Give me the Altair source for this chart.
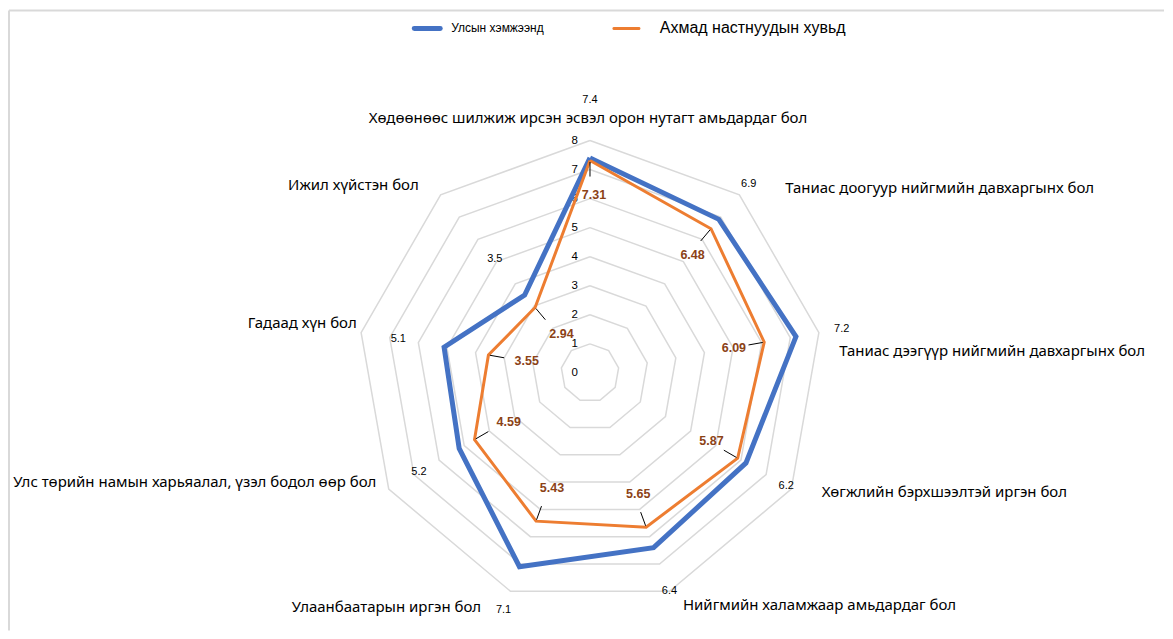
import altair as alt
import pandas as pd

categories = [
    "Хөдөөнөөс шилжиж ирсэн эсвэл орон нутагт амьдардаг бол",
    "Таниас доогуур нийгмийн давхаргынх бол",
    "Таниас дээгүүр нийгмийн давхаргынх бол",
    "Хөгжлийн бэрхшээлтэй иргэн бол",
    "Нийгмийн халамжаар амьдардаг бол",
    "Улаанбаатарын иргэн бол",
    "Улс төрийн намын харьяалал, үзэл бодол өөр бол",
    "Гадаад хүн бол",
    "Ижил хүйстэн бол",
]
national = [7.4, 6.9, 7.2, 6.2, 6.4, 7.1, 5.2, 5.1, 3.5]
elderly = [7.31, 6.48, 6.09, 5.87, 5.65, 5.43, 4.59, 3.55, 2.94]
series_names = ["Улсын хэмжээнд", "Ахмад настнуудын хувьд"]
ticks = [0, 1, 2, 3, 4, 5, 6, 7, 8]

N = len(categories)

# ---- layout (pixels) ----
W, H = 1157, 623
CX, CY = 582, 365
U = 29.1
xdom = [-CX / U, (W - CX) / U]
ydom = [-(H - CY) / U, CY / U]

# category label placement: radius plus small pixel nudges (as Excel placed them)
CAT_R = 8.85
NUDGE_X = [-2, 30, -4, 9, 5, -21, 9, 20, -6]
NUDGE_Y = [2, 12, 23, -9, -10, -7, -19, -5, 9]

BLUE = "#4472C4"
ORANGE = "#ED7D31"
BROWN = "#8B4216"
GRID = "#D9D9D9"


def series_df(vals):
    rows = [{"idx": i, "value": v, "category": categories[i]} for i, v in enumerate(vals)]
    rows.append({"idx": N, "value": vals[0], "category": categories[0]})
    return pd.DataFrame(rows)


df_nat = series_df(national)
df_eld = series_df(elderly)
df_cat = pd.DataFrame({"idx": list(range(N)), "category": categories})
df_rings = pd.DataFrame([{"ring": r, "idx": k} for r in ticks[1:] for k in range(N + 1)])
df_ticks = pd.DataFrame({"tick": ticks})

xs = alt.Scale(domain=xdom, nice=False, zero=False)
ys = alt.Scale(domain=ydom, nice=False, zero=False)


def with_polar(chart, r_expr, extra_x="0", extra_y="0"):
    return (
        chart.transform_calculate(ang=f"datum.idx * 2 * PI / {N}")
        .transform_calculate(
            px=f"({r_expr}) * sin(datum.ang) + ({extra_x})",
            py=f"({r_expr}) * cos(datum.ang) + ({extra_y})",
        )
    )


def enc_xy():
    return dict(
        x=alt.X("px:Q", scale=xs, axis=None),
        y=alt.Y("py:Q", scale=ys, axis=None),
    )


rings = with_polar(alt.Chart(df_rings), "datum.ring").mark_line(
    color=GRID, strokeWidth=1.5
).encode(**enc_xy(), detail="ring:N", order="idx:Q")

tick_labels = alt.Chart(df_ticks).mark_text(
    font="Liberation Sans", fontSize=11.5, color="#000000", align="right", baseline="middle", dx=-12
).encode(
    x=alt.X("zero:Q", scale=xs, axis=None),
    y=alt.Y("tick:Q", scale=ys, axis=None),
    text="tick:Q",
).transform_calculate(zero="0")

nat_line = with_polar(alt.Chart(df_nat), "datum.value").mark_line(
    color=BLUE, strokeWidth=5
).encode(**enc_xy(), order="idx:Q")

eld_line = with_polar(alt.Chart(df_eld), "datum.value").mark_line(
    color=ORANGE, strokeWidth=3
).encode(**enc_xy(), order="idx:Q")

nat_labels = with_polar(
    alt.Chart(df_nat).transform_filter(f"datum.idx < {N}"),
    "datum.value + (datum.idx == 0 ? 2.0 : 1.6)",
).mark_text(font="Liberation Sans", fontSize=11, color="#000000").encode(
    **enc_xy(), text=alt.Text("value:Q", format=".1f")
)

leaders = (
    alt.Chart(df_eld)
    .transform_filter(f"datum.idx < {N}")
    .transform_calculate(ang=f"datum.idx * 2 * PI / {N}")
    .transform_calculate(
        x1="(datum.value - 0.05) * sin(datum.ang)",
        y1="(datum.value - 0.05) * cos(datum.ang)",
        x2="(datum.value - 0.55) * sin(datum.ang)",
        y2="(datum.value - 0.55) * cos(datum.ang)",
    )
    .mark_rule(color="#000000", strokeWidth=1)
    .encode(
        x=alt.X("x1:Q", scale=xs, axis=None),
        y=alt.Y("y1:Q", scale=ys, axis=None),
        x2="x2:Q",
        y2="y2:Q",
    )
)

eld_labels = with_polar(
    alt.Chart(df_eld).transform_filter(f"datum.idx < {N}"), "datum.value - 1.2"
).mark_text(font="Liberation Sans", fontSize=12.5, fontWeight="bold", color=BROWN, dx=4).encode(
    **enc_xy(), text=alt.Text("value:Q", format=".2f")
)

nx = f"{NUDGE_X}[datum.idx] / {U}"
ny = f"-{NUDGE_Y}[datum.idx] / {U}"
cat_font = dict(font="Noto Sans", fontSize=15, color="#000000", baseline="middle")
cat_top = with_polar(
    alt.Chart(df_cat).transform_filter("datum.idx == 0"), f"{CAT_R}", nx, ny
).mark_text(align="center", **cat_font).encode(**enc_xy(), text="category:N")
cat_right = with_polar(
    alt.Chart(df_cat).transform_filter("datum.idx >= 1 && datum.idx <= 4"), f"{CAT_R}", nx, ny
).mark_text(align="left", **cat_font).encode(**enc_xy(), text="category:N")
cat_left = with_polar(
    alt.Chart(df_cat).transform_filter("datum.idx >= 5"), f"{CAT_R}", nx, ny
).mark_text(align="right", **cat_font).encode(**enc_xy(), text="category:N")

# custom legend
leg_blue = alt.Chart(pd.DataFrame({"s": [series_names[0]]})).mark_rule(
    color=BLUE, strokeWidth=5, strokeCap="round"
).encode(x=alt.value(406), x2=alt.value(432), y=alt.value(20))
leg_blue_t = alt.Chart(pd.DataFrame({"s": [series_names[0]]})).mark_text(
    font="Liberation Sans", fontSize=12, align="left", baseline="middle", color="#000000"
).encode(x=alt.value(443), y=alt.value(20), text="s:N")
leg_or = alt.Chart(pd.DataFrame({"s": [series_names[1]]})).mark_rule(
    color=ORANGE, strokeWidth=3, strokeCap="round"
).encode(x=alt.value(606), x2=alt.value(631), y=alt.value(20))
leg_or_t = alt.Chart(pd.DataFrame({"s": [series_names[1]]})).mark_text(
    font="Liberation Sans", fontSize=16, align="left", baseline="middle", color="#000000"
).encode(x=alt.value(652), y=alt.value(20), text="s:N")

border_top = alt.Chart(pd.DataFrame({"a": [0]})).mark_rule(color=GRID, strokeWidth=2).encode(
    x=alt.value(0), x2=alt.value(W), y=alt.value(2)
)
border_left = alt.Chart(pd.DataFrame({"a": [0]})).mark_rule(color=GRID, strokeWidth=2).encode(
    x=alt.value(0), y=alt.value(2), y2=alt.value(H)
)

chart = alt.layer(
    border_top, border_left,
    rings, tick_labels, nat_line, eld_line, leaders,
    nat_labels, eld_labels, cat_top, cat_right, cat_left,
    leg_blue, leg_blue_t, leg_or, leg_or_t,
).properties(width=W, height=H, padding=0, background="#FFFFFF").configure_view(stroke=None)

chart.save("out.html", embed_options={"renderer": "svg", "actions": False})
